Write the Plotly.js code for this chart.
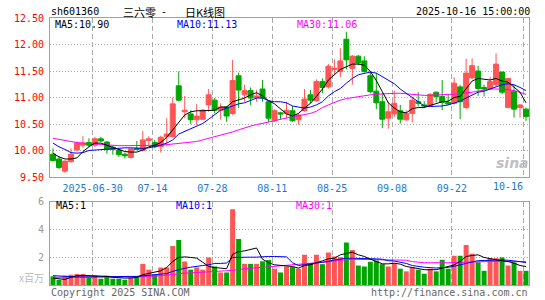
<!DOCTYPE html>
<html><head><meta charset="utf-8">
<script src="https://cdn.plot.ly/plotly-3.0.1.min.js"></script>
<style>html,body{margin:0;padding:0;background:#fff;}#chart{width:545px;height:300px;}</style>
</head><body><div id="chart"></div>
<script>
const dates = ['2025-06-19','2025-06-20','2025-06-23','2025-06-24','2025-06-25','2025-06-26','2025-06-27','2025-06-30',
'2025-07-01','2025-07-02','2025-07-03','2025-07-04','2025-07-07','2025-07-08','2025-07-09','2025-07-10','2025-07-11',
'2025-07-14','2025-07-15','2025-07-16','2025-07-17','2025-07-18','2025-07-21','2025-07-22','2025-07-23','2025-07-24','2025-07-25',
'2025-07-28','2025-07-29','2025-07-30','2025-07-31','2025-08-01','2025-08-04','2025-08-05','2025-08-06','2025-08-07','2025-08-08',
'2025-08-11','2025-08-12','2025-08-13','2025-08-14','2025-08-15','2025-08-18','2025-08-19','2025-08-20','2025-08-21','2025-08-22',
'2025-08-25','2025-08-26','2025-08-27','2025-08-28','2025-08-29','2025-09-01','2025-09-02','2025-09-03','2025-09-04','2025-09-05',
'2025-09-08','2025-09-09','2025-09-10','2025-09-11','2025-09-12','2025-09-15','2025-09-16','2025-09-17','2025-09-18','2025-09-19',
'2025-09-22','2025-09-23','2025-09-24','2025-09-25','2025-09-26','2025-09-29','2025-09-30',
'2025-10-09','2025-10-10','2025-10-13','2025-10-14','2025-10-15','2025-10-16'];

const open = [9.93,9.84,9.61,9.79,10.01,10.10,10.15,10.10,10.22,10.16,
10.06,10.01,9.93,9.87,10.04,10.00,10.19,10.15,10.07,10.26,
10.26,11.22,10.73,10.69,10.58,10.59,10.86,10.95,10.76,10.82,
10.70,11.41,11.05,11.13,11.00,11.16,10.92,10.56,10.71,10.70,
10.75,10.58,10.75,11.05,10.94,11.30,11.20,11.53,11.49,12.10,
11.55,11.78,11.69,11.41,11.12,10.92,10.61,10.69,10.75,10.58,
10.70,10.92,10.86,10.85,11.10,11.02,10.91,10.89,11.20,10.81,
11.37,11.50,11.19,11.17,11.24,11.48,10.81,11.12,10.81,10.78];
const high = [10.04,9.90,9.81,10.04,10.17,10.27,10.23,10.26,10.26,10.18,
10.09,10.04,9.96,10.04,10.18,10.37,10.27,10.20,10.28,10.61,
11.00,11.49,11.03,10.76,10.88,10.78,11.16,10.99,10.89,10.84,
11.71,11.47,11.24,11.19,11.14,11.33,10.93,10.78,10.73,10.92,
10.84,10.70,11.16,11.14,11.34,11.36,11.63,11.72,11.93,12.24,
11.80,11.80,11.78,11.49,11.46,11.08,10.92,11.13,10.86,10.76,
10.99,11.10,10.93,11.08,11.11,11.33,11.06,11.38,11.24,11.73,
11.74,11.60,11.24,11.39,11.83,11.49,11.37,11.24,10.87,10.81];
const low = [9.79,9.65,9.58,9.77,9.98,10.05,10.06,10.07,10.16,9.94,
9.92,9.88,9.85,9.85,10.00,9.98,10.10,10.04,9.96,10.08,
10.25,10.93,10.61,10.50,10.48,10.58,10.73,10.70,10.58,10.54,
10.67,10.80,10.92,10.86,10.92,10.92,10.54,10.54,10.58,10.61,
10.54,10.49,10.73,10.89,10.92,11.08,11.17,11.43,11.39,11.53,
11.24,11.61,11.47,11.08,10.78,10.42,10.41,10.63,10.51,10.56,
10.53,10.83,10.80,10.84,10.91,10.76,10.86,10.87,10.59,10.78,
11.35,11.03,11.02,11.14,11.20,11.06,10.80,10.62,10.62,10.56];
const close = [9.81,9.68,9.80,9.93,10.14,10.14,10.10,10.22,10.18,10.02,
10.02,9.92,9.90,10.03,10.02,10.20,10.22,10.07,10.25,10.31,
10.88,10.95,10.76,10.58,10.65,10.76,11.05,10.76,10.82,10.65,
11.32,11.14,11.13,10.99,11.03,10.99,10.61,10.75,10.69,10.76,
10.56,10.67,10.97,10.95,11.30,11.19,11.59,11.55,11.69,11.71,
11.78,11.65,11.49,11.11,10.90,10.59,10.73,10.89,10.59,10.70,
10.95,10.89,10.84,11.06,11.02,10.91,10.88,11.27,10.92,11.46,
11.60,11.17,11.16,11.30,11.63,11.10,11.36,10.78,10.86,10.64];

const ma5 = [9.95,9.88,9.84,9.84,9.86,9.98,10.07,10.14,10.14,10.10,
10.06,10.01,9.98,9.97,9.97,10.01,10.07,10.10,10.15,10.25,
10.39,10.52,10.67,10.73,10.75,10.75,10.76,10.76,10.82,10.82,
10.92,10.95,10.99,11.05,11.09,11.03,10.94,10.88,10.78,10.69,
10.65,10.70,10.80,10.89,11.02,11.16,11.33,11.43,11.53,11.58,
11.63,11.63,11.61,11.49,11.32,11.11,10.90,10.80,10.73,10.71,
10.79,10.81,10.81,10.85,10.89,10.92,10.93,11.00,11.02,11.16,
11.31,11.36,11.35,11.33,11.36,11.31,11.29,11.20,11.10,10.90];
const ma10 = [10.14,10.07,10.02,9.96,9.95,9.96,10.00,10.01,10.02,10.02,
10.04,10.04,10.05,10.05,10.04,10.04,10.05,10.07,10.10,10.14,
10.20,10.31,10.36,10.42,10.46,10.51,10.59,10.67,10.76,10.80,
10.84,10.88,10.90,10.94,10.99,10.99,10.94,10.92,10.92,10.90,
10.84,10.82,10.80,10.82,10.86,10.92,11.03,11.11,11.17,11.27,
11.36,11.43,11.46,11.48,11.46,11.39,11.33,11.26,11.16,11.08,
10.99,10.91,10.84,10.83,10.83,10.84,10.86,10.89,10.93,10.99,
11.05,11.10,11.12,11.16,11.19,11.24,11.26,11.24,11.19,11.13];
const ma30 = [10.23,10.21,10.18,10.16,10.15,10.14,10.13,10.12,10.11,10.10,
10.10,10.09,10.09,10.09,10.09,10.09,10.09,10.09,10.10,10.11,
10.12,10.13,10.14,10.15,10.17,10.20,10.23,10.26,10.29,10.31,
10.35,10.39,10.43,10.46,10.49,10.51,10.53,10.56,10.59,10.61,
10.63,10.65,10.67,10.70,10.74,10.81,10.86,10.91,10.95,10.98,
11.00,11.02,11.03,11.05,11.06,11.07,11.08,11.08,11.08,11.07,
11.05,11.05,11.04,11.04,11.05,11.05,11.06,11.06,11.07,11.08,
11.10,11.12,11.14,11.16,11.16,11.16,11.15,11.13,11.10,11.06];

const volume = [0.62,0.38,0.67,0.74,0.79,0.79,0.55,0.69,0.45,0.67,
0.45,0.45,0.38,0.55,0.62,1.52,1.10,0.74,1.26,1.26,
2.81,3.24,1.69,1.10,1.26,1.10,1.98,1.33,0.90,0.90,
5.45,3.31,1.52,1.52,1.52,1.70,1.80,1.17,0.90,1.33,
1.29,1.17,2.17,1.57,2.17,1.50,2.33,2.05,2.00,3.05,
2.52,1.40,1.33,1.67,1.76,1.50,1.33,1.57,1.17,0.98,
1.26,1.10,0.81,1.17,0.98,1.81,1.17,2.10,2.10,2.88,
2.24,1.64,1.02,1.93,1.93,1.98,1.40,1.62,1.02,1.02];
const vma5 = [0.50,0.43,0.40,0.55,0.67,0.69,0.67,0.67,0.67,0.62,
0.55,0.50,0.50,0.50,0.55,0.74,0.83,0.90,1.02,1.26,
1.69,1.98,2.02,1.98,1.93,1.64,1.33,1.26,1.21,1.17,
2.20,2.40,2.45,2.55,2.66,1.85,1.60,1.45,1.40,1.40,
1.33,1.21,1.40,1.45,1.62,1.74,1.88,1.93,2.17,2.29,
2.36,2.17,2.05,1.86,1.69,1.52,1.52,1.57,1.50,1.33,
1.26,1.17,1.10,1.10,1.10,1.21,1.33,1.45,1.69,2.05,
2.12,2.17,1.98,1.88,1.81,1.74,1.69,1.57,1.40,1.33];
const vma10 = [0.67,0.64,0.62,0.60,0.58,0.58,0.58,0.58,0.60,0.60,
0.62,0.62,0.60,0.60,0.62,0.66,0.70,0.72,0.76,0.82,
0.98,1.10,1.20,1.28,1.36,1.40,1.45,1.55,1.55,1.58,
1.98,2.00,2.00,2.00,2.00,2.05,2.05,2.05,2.02,2.02,
1.60,1.40,1.46,1.52,1.58,1.62,1.70,1.80,1.88,1.92,
1.92,1.92,1.90,1.90,1.88,1.85,1.75,1.72,1.66,1.55,
1.40,1.33,1.28,1.25,1.22,1.25,1.27,1.35,1.45,1.60,
1.70,1.75,1.76,1.78,1.82,1.80,1.78,1.75,1.68,1.60];
const vma30 = [0.55,0.55,0.55,0.55,0.55,0.55,0.55,0.55,0.55,0.55,
0.55,0.55,0.55,0.56,0.57,0.60,0.62,0.64,0.67,0.70,
0.76,0.82,0.85,0.87,0.89,0.90,0.93,0.95,0.96,0.98,
1.05,1.12,1.16,1.20,1.24,1.28,1.32,1.35,1.38,1.42,
1.47,1.49,1.52,1.55,1.60,1.62,1.68,1.72,1.76,1.82,
1.85,1.84,1.84,1.84,1.84,1.82,1.80,1.80,1.80,1.78,
1.68,1.62,1.60,1.60,1.58,1.60,1.60,1.62,1.63,1.65,
1.66,1.67,1.68,1.68,1.68,1.68,1.68,1.68,1.68,1.68];

const tickDates = ['2025-06-30','2025-07-14','2025-07-28','2025-08-11','2025-08-25','2025-09-08','2025-09-22','2025-10-16'];
const tickText  = ['2025-06-30','07-14','07-28','08-11','08-25','09-08','09-22','10-16'];
const priceTicks = [9.5,10,10.5,11,11.5,12,12.5];
const volTicks = [2,4,6];
const titleParts = ['三六零', '-', '日K线图'];
const legendMain = ['MA5:10.90','MA10:11.13','MA30:11.06'];
const legendVol = ['MA5:1','MA10:1','MA30:1'];

const RED = '#ff5555', GREEN = '#00a600';
const MONO = 'DejaVu Sans Mono, monospace';
const CJK = 'Noto Sans CJK SC, sans-serif';

const xi = dates.map((d, i) => i);
const gridPos = tickDates.map(d => dates.indexOf(d) - 0.38);
const volColors = close.map((c, i) => c >= open[i] ? RED : GREEN);

const L = 50, R = 16, T = 18, B = 15, W = 545, H = 300;
const PW = W - L - R, PH = H - T - B;
const px = x => (x - L) / PW;
const py = y => (H - B - y) / PH;

function ann(text, x, y, color, opts) {
  opts = opts || {};
  return {xref:'paper', yref:'paper', x:px(x), y:py(y), text:text, showarrow:false,
    xanchor: opts.xa || 'left', yanchor:'middle', borderpad:0,
    font:{family: opts.family || MONO, size: opts.size || 10, color: color,
      style: opts.style || 'normal', weight: opts.weight || 'normal'}};
}

const lineTr = (y, color, xa, ya) => ({type:'scatter', mode:'lines', x:xi, y:y, xaxis:xa, yaxis:ya,
  line:{color:color, width:1}, hoverinfo:'skip'});

const traces = [
  {type:'candlestick', x:xi, open:open, high:high, low:low, close:close, xaxis:'x', yaxis:'y',
   increasing:{line:{color:RED, width:1}, fillcolor:RED},
   decreasing:{line:{color:GREEN, width:1}, fillcolor:GREEN},
   whiskerwidth:0, hoverinfo:'skip'},
  lineTr(ma30, '#ff00ff', 'x', 'y'),
  lineTr(ma10, '#0000ff', 'x', 'y'),
  lineTr(ma5, '#000000', 'x', 'y'),
  {type:'bar', x:xi, y:volume, xaxis:'x2', yaxis:'y2', width:0.83,
   marker:{color:volColors, line:{width:0}}, hoverinfo:'skip'},
  lineTr(vma30, '#ff00ff', 'x2', 'y2'),
  lineTr(vma10, '#0000ff', 'x2', 'y2'),
  lineTr(vma5, '#000000', 'x2', 'y2')
];

const xcommon = {range:[-0.5, 79.5], tickvals:gridPos, showgrid:true, gridcolor:'#aaaaaa',
  griddash:'5px,3px', gridwidth:1, zeroline:false, showline:true, mirror:true, linecolor:'#a0a0a0',
  linewidth:1, ticks:'', fixedrange:true};

const layout = {
  width:W, height:H, margin:{l:L, r:R, t:T, b:B, pad:0},
  paper_bgcolor:'#ffffff', plot_bgcolor:'#ffffff', showlegend:false,
  boxgap:0.17, boxgroupgap:0,
  xaxis: Object.assign({}, xcommon, {anchor:'y', domain:[0,1],
    ticktext: tickText.map((t, i) => i === tickText.length - 1 ? '' : t),
    tickfont:{family:MONO, size:10, color:'#1a7ad0'}, ticklabelstandoff:2,
    rangeslider:{visible:false}}),
  xaxis2: Object.assign({}, xcommon, {anchor:'y2', domain:[0,1], showticklabels:false}),
  yaxis: {domain:[py(177), 1], range:[9.5, 12.5], tickvals:priceTicks, tickformat:'.2f',
    showgrid:true, gridcolor:'#aaaaaa', griddash:'1px,2px', zeroline:false,
    showline:true, mirror:true, linecolor:'#a0a0a0', ticks:'', ticklabelstandoff:3,
    tickfont:{family:MONO, size:10, color:'#ff0000'}, fixedrange:true},
  yaxis2: {domain:[0, py(201.5)], range:[0, 6], tickvals:volTicks,
    showgrid:true, gridcolor:'#aaaaaa', griddash:'1px,2px', zeroline:false,
    showline:true, mirror:true, linecolor:'#a0a0a0', ticks:'', ticklabelstandoff:3,
    tickfont:{family:MONO, size:10, color:'#999999'}, fixedrange:true},
  annotations: [
    ann('sh601360', 50, 12, '#000'),
    ann(titleParts[0], 122, 12, '#000', {family:CJK, size:11}),
    ann(titleParts[1], 160, 12, '#000', {size:10}),
    ann(titleParts[2], 184, 12, '#000', {family:CJK, size:11}),
    ann('2025-10-16 15:00:00', 531, 12, '#000', {xa:'right'}),
    ann(legendMain[0], 54, 24.5, '#000'),
    ann(legendMain[1], 176, 24.5, '#0000ff'),
    ann(legendMain[2], 296, 24.5, '#ff00ff'),
    ann(legendVol[0], 55, 205.5, '#000'),
    ann(legendVol[1], 175, 205.5, '#0000ff'),
    ann(legendVol[2], 295, 205.5, '#ff00ff'),
    ann('x百万', 31.5, 277, '#bbbbbb', {xa:'center', family:CJK, size:10}),
    ann('Copyright 2025 SINA.COM', 50, 292.5, '#666666'),
    ann('http://finance.sina.com.cn', 529, 292.5, '#666666', {xa:'right'}),
    ann(tickText[tickText.length - 1], 508, 186, '#1a7ad0', {xa:'center'}),
    ann('sina', 512, 163, 'rgba(170,170,170,0.75)', {xa:'center', family:'DejaVu Sans, sans-serif', size:14, style:'italic', weight:'bold'})
  ]
};

Plotly.newPlot('chart', traces, layout, {staticPlot:true, displayModeBar:false});
</script>
</body></html>
